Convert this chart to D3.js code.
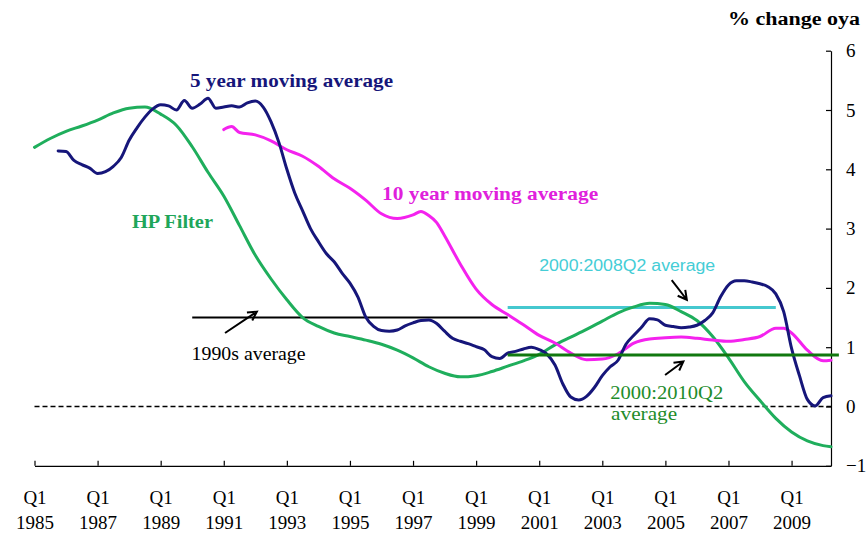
<!DOCTYPE html>
<html>
  <head>
    <meta charset="utf-8">
    <title>Potential growth estimates</title>
    <script src="https://cdn.jsdelivr.net/npm/d3@7"></script>
    <style>
      body { margin: 0; background: #fff; }
      svg { font-family: "Liberation Serif", "Times New Roman", serif; }
      .tickLabel { font-size: 19px; fill: #000; }
      .axis path, .axis line { stroke: #000; stroke-width: 1.2; }
      .series { fill: none; stroke-width: 3; stroke-linejoin: round; stroke-linecap: round; }
    </style>
  </head>
  <body>
    <svg id="chart" width="867" height="533"></svg>
    <script>
      // data
      hpQuarters = ["1985Q1","1985Q3","1986Q1","1986Q3","1987Q1","1987Q3","1988Q1","1988Q3","1989Q1","1989Q3",
        "1990Q1","1990Q3","1991Q1","1991Q3","1992Q1","1992Q3","1993Q1","1993Q3","1994Q1","1994Q3",
        "1995Q1","1995Q3","1996Q1","1996Q3","1997Q1","1997Q3","1998Q1","1998Q3","1999Q1","1999Q3",
        "2000Q1","2000Q3","2001Q1","2001Q3","2002Q1","2002Q3","2003Q1","2003Q3","2004Q1","2004Q3",
        "2005Q1","2005Q3","2006Q1","2006Q3","2007Q1","2007Q3","2008Q1","2008Q3","2009Q1","2009Q3",
        "2010Q1","2010Q2"];
      hpValues = [4.37,4.52,4.64,4.73,4.83,4.95,5.03,5.05,4.93,4.74,
        4.38,3.95,3.55,3.05,2.55,2.15,1.80,1.50,1.35,1.24,
        1.18,1.12,1.05,0.95,0.82,0.67,0.56,0.50,0.52,0.59,
        0.68,0.77,0.88,1.04,1.17,1.30,1.44,1.58,1.68,1.74,
        1.72,1.60,1.45,1.18,0.82,0.42,0.10,-0.20,-0.43,-0.58,
        -0.66,-0.68];

      ma5Quarters = ["1985Q4",
        "1986Q1","1986Q2","1986Q3","1986Q4","1987Q1","1987Q2","1987Q3","1987Q4",
        "1988Q1","1988Q2","1988Q3","1988Q4","1989Q1","1989Q2","1989Q3","1989Q4",
        "1990Q1","1990Q2","1990Q3","1990Q4","1991Q1","1991Q2","1991Q3","1991Q4",
        "1992Q1","1992Q2","1992Q3","1992Q4","1993Q1","1993Q2","1993Q3","1993Q4",
        "1994Q1","1994Q2","1994Q3","1994Q4","1995Q1","1995Q2","1995Q3","1995Q4",
        "1996Q1","1996Q2","1996Q3","1996Q4","1997Q1","1997Q2","1997Q3","1997Q4",
        "1998Q1","1998Q2","1998Q3","1998Q4","1999Q1","1999Q2","1999Q3","1999Q4",
        "2000Q1","2000Q2","2000Q3","2000Q4","2001Q1","2001Q2","2001Q3","2001Q4",
        "2002Q1","2002Q2","2002Q3","2002Q4","2003Q1","2003Q2","2003Q3","2003Q4",
        "2004Q1","2004Q2","2004Q3","2004Q4","2005Q1","2005Q2","2005Q3","2005Q4",
        "2006Q1","2006Q2","2006Q3","2006Q4","2007Q1","2007Q2","2007Q3","2007Q4",
        "2008Q1","2008Q2","2008Q3","2008Q4","2009Q1","2009Q2","2009Q3","2009Q4",
        "2010Q1","2010Q2"];
      ma5Values = [4.31,
        4.30,4.15,4.08,4.02,3.93,3.96,4.05,4.20,
        4.49,4.70,4.88,5.02,5.09,5.07,5.00,5.16,
        5.03,5.10,5.20,5.03,5.05,5.07,5.05,5.12,
        5.15,5.05,4.80,4.45,4.00,3.60,3.30,3.00,
        2.78,2.58,2.44,2.25,2.08,1.85,1.51,1.35,
        1.28,1.27,1.29,1.36,1.41,1.45,1.46,1.40,
        1.27,1.15,1.10,1.06,1.01,0.96,0.84,0.81,
        0.90,0.93,0.97,1.00,0.96,0.88,0.70,0.38,
        0.16,0.11,0.17,0.32,0.52,0.67,0.78,1.05,
        1.20,1.34,1.48,1.46,1.37,1.35,1.33,1.34,
        1.37,1.45,1.58,1.85,2.05,2.12,2.12,2.10,
        2.07,2.02,1.90,1.60,0.98,0.52,0.12,0.01,
        0.15,0.18];

      ma10Quarters = ["1991Q1","1991Q2","1991Q3","1992Q1","1992Q3","1993Q1","1993Q3","1994Q1","1994Q3",
        "1995Q1","1995Q3","1996Q1","1996Q3","1997Q1","1997Q2","1997Q3","1997Q4","1998Q1","1998Q3",
        "1999Q1","1999Q3","2000Q1","2000Q3","2001Q1","2001Q3","2002Q1","2002Q3","2003Q1","2003Q3",
        "2004Q1","2004Q3","2005Q1","2005Q3","2006Q1","2006Q3","2007Q1","2007Q3","2008Q1","2008Q3",
        "2008Q4","2009Q1","2009Q3","2010Q1","2010Q2"];
      ma10Values = [4.67,4.72,4.62,4.58,4.48,4.33,4.22,4.05,3.84,
        3.68,3.48,3.25,3.17,3.23,3.29,3.22,3.10,2.88,2.40,
        1.98,1.72,1.55,1.38,1.20,1.07,0.90,0.79,0.80,0.89,
        1.07,1.14,1.16,1.17,1.15,1.12,1.10,1.13,1.18,1.32,
        1.32,1.24,0.95,0.77,0.78];

      // period averages: [from, to, value]
      avg1990s = ["1990Q1", "1999Q4", 1.50];
      avg2000to2008 = ["2000Q1", "2008Q2", 1.67];
      avg2000to2010 = ["2000Q1", "2010Q2", 0.87];

      yTicks = [-1, 0, 1, 2, 3, 4, 5, 6];
      xTickYears = [1985, 1987, 1989, 1991, 1993, 1995, 1997, 1999, 2001, 2003, 2005, 2007, 2009];

      // helpers
      function quarterToYear(q) {
        return +q.slice(0, 4) + (+q.slice(5) - 1) / 4;
      }
      function toPoints(quarters, values) {
        return quarters.map(function(q, i) { return { t: quarterToYear(q), v: values[i] }; });
      }

      // scales
      svg = d3.select("#chart");
      x = d3.scaleLinear().domain([1985, 2010.25]).range([34.5, 831]);
      y = d3.scaleLinear().domain([-1, 6]).range([465.8, 50.7]);

      line = d3.line()
        .x(function(d) { return x(d.t); })
        .y(function(d) { return y(d.v); })
        .curve(d3.curveMonotoneX);

      // axes
      xAxis = d3.axisBottom(x)
        .tickValues(xTickYears)
        .tickSizeInner(-5)
        .tickSizeOuter(0)
        .tickFormat("");
      xAxisGroup = svg.append("g")
        .attr("class", "axis")
        .attr("transform", "translate(0," + y(-1) + ")")
        .call(xAxis);
      xAxisGroup.selectAll(".tick").each(function(d) {
        var g = d3.select(this);
        g.append("text").attr("class", "tickLabel").attr("y", 38)
          .attr("text-anchor", "middle").text("Q1");
        g.append("text").attr("class", "tickLabel").attr("y", 63)
          .attr("text-anchor", "middle").text(d);
      });

      yAxis = d3.axisRight(y)
        .tickValues(yTicks)
        .tickSizeInner(-5)
        .tickSizeOuter(0)
        .tickPadding(15)
        .tickFormat(d3.format("d"));
      yAxisGroup = svg.append("g")
        .attr("class", "axis")
        .attr("transform", "translate(" + x(2010.25) + ",0)")
        .call(yAxis);
      yAxisGroup.selectAll(".tick text")
        .attr("class", "tickLabel")
        .attr("text-anchor", "start");
      yAxisGroup.attr("font-family", null).attr("font-size", null);
      xAxisGroup.attr("font-family", null).attr("font-size", null);

      svg.append("text")
        .attr("x", 860).attr("y", 25)
        .attr("text-anchor", "end")
        .attr("textLength", 132).attr("lengthAdjust", "spacingAndGlyphs")
        .style("font-size", "18px").style("font-weight", "bold")
        .text("% change oya");

      // zero line
      svg.append("line")
        .attr("x1", x(1985)).attr("x2", x(2010.25))
        .attr("y1", y(0)).attr("y2", y(0))
        .attr("stroke", "#000").attr("stroke-width", 1.5)
        .attr("stroke-dasharray", "5,3");

      // period averages
      function drawAverage(a, colour, width) {
        svg.append("line")
          .attr("x1", x(quarterToYear(a[0]))).attr("x2", x(quarterToYear(a[1]) + 0.25))
          .attr("y1", y(a[2])).attr("y2", y(a[2]))
          .attr("stroke", colour).attr("stroke-width", width);
      }
      drawAverage(avg1990s, "#000", 2);
      drawAverage(avg2000to2008, "#45C8CF", 3);

      // series
      svg.append("path").datum(toPoints(hpQuarters, hpValues))
        .attr("class", "series").attr("stroke", "#1FAE5C").attr("d", line);
      svg.append("path").datum(toPoints(ma10Quarters, ma10Values))
        .attr("class", "series").attr("stroke", "#F422EE").attr("d", line);
      svg.append("path").datum(toPoints(ma5Quarters, ma5Values))
        .attr("class", "series").attr("stroke", "#16167A").attr("d", line);

      drawAverage(avg2000to2010, "#11780F", 3);

      // labels
      function label(text, t, v, colour, size, width, weight, family) {
        return svg.append("text")
          .attr("x", x(t)).attr("y", y(v))
          .attr("fill", colour)
          .attr("textLength", width)
          .attr("lengthAdjust", "spacingAndGlyphs")
          .style("font-size", size + "px")
          .style("font-weight", weight || "normal")
          .style("font-family", family || null)
          .text(text);
      }
      label("5 year moving average", 1989.93, 5.39, "#16167A", 19, 203, "bold");
      label("10 year moving average", 1996.02, 3.48, "#E020DC", 19, 216, "bold");
      label("HP Filter", 1988.09, 3.01, "#1FA65A", 19, 81, "bold");
      label("1990s average", 1989.98, 0.785, "#000", 18, 114);
      label("2000:2008Q2 average", 2001.0, 2.285, "#45CDD6", 16, 176, "normal", "'Liberation Sans', Arial, sans-serif");
      label("2000:2010Q2", 2003.25, 0.127, "#1E8C2A", 18, 113);
      label("average", 2003.28, -0.23, "#1E8C2A", 18, 66);

      // arrows
      function arrow(t1, v1, t2, v2) {
        var x1 = x(t1), y1 = y(v1), x2 = x(t2), y2 = y(v2);
        var ang = Math.atan2(y2 - y1, x2 - x1), len = 10, spread = 0.5;
        var p = d3.path();
        p.moveTo(x1, y1); p.lineTo(x2, y2);
        p.moveTo(x2 - len * Math.cos(ang - spread), y2 - len * Math.sin(ang - spread));
        p.lineTo(x2, y2);
        p.lineTo(x2 - len * Math.cos(ang + spread), y2 - len * Math.sin(ang + spread));
        svg.append("path").attr("d", p.toString())
          .attr("fill", "none").attr("stroke", "#000").attr("stroke-width", 2);
      }
      arrow(1991.04, 1.24, 1992.05, 1.60);
      arrow(2005.2, 2.13, 2005.68, 1.80);
      arrow(2004.99, 0.53, 2005.57, 0.76);
    </script>
  </body>
</html>
